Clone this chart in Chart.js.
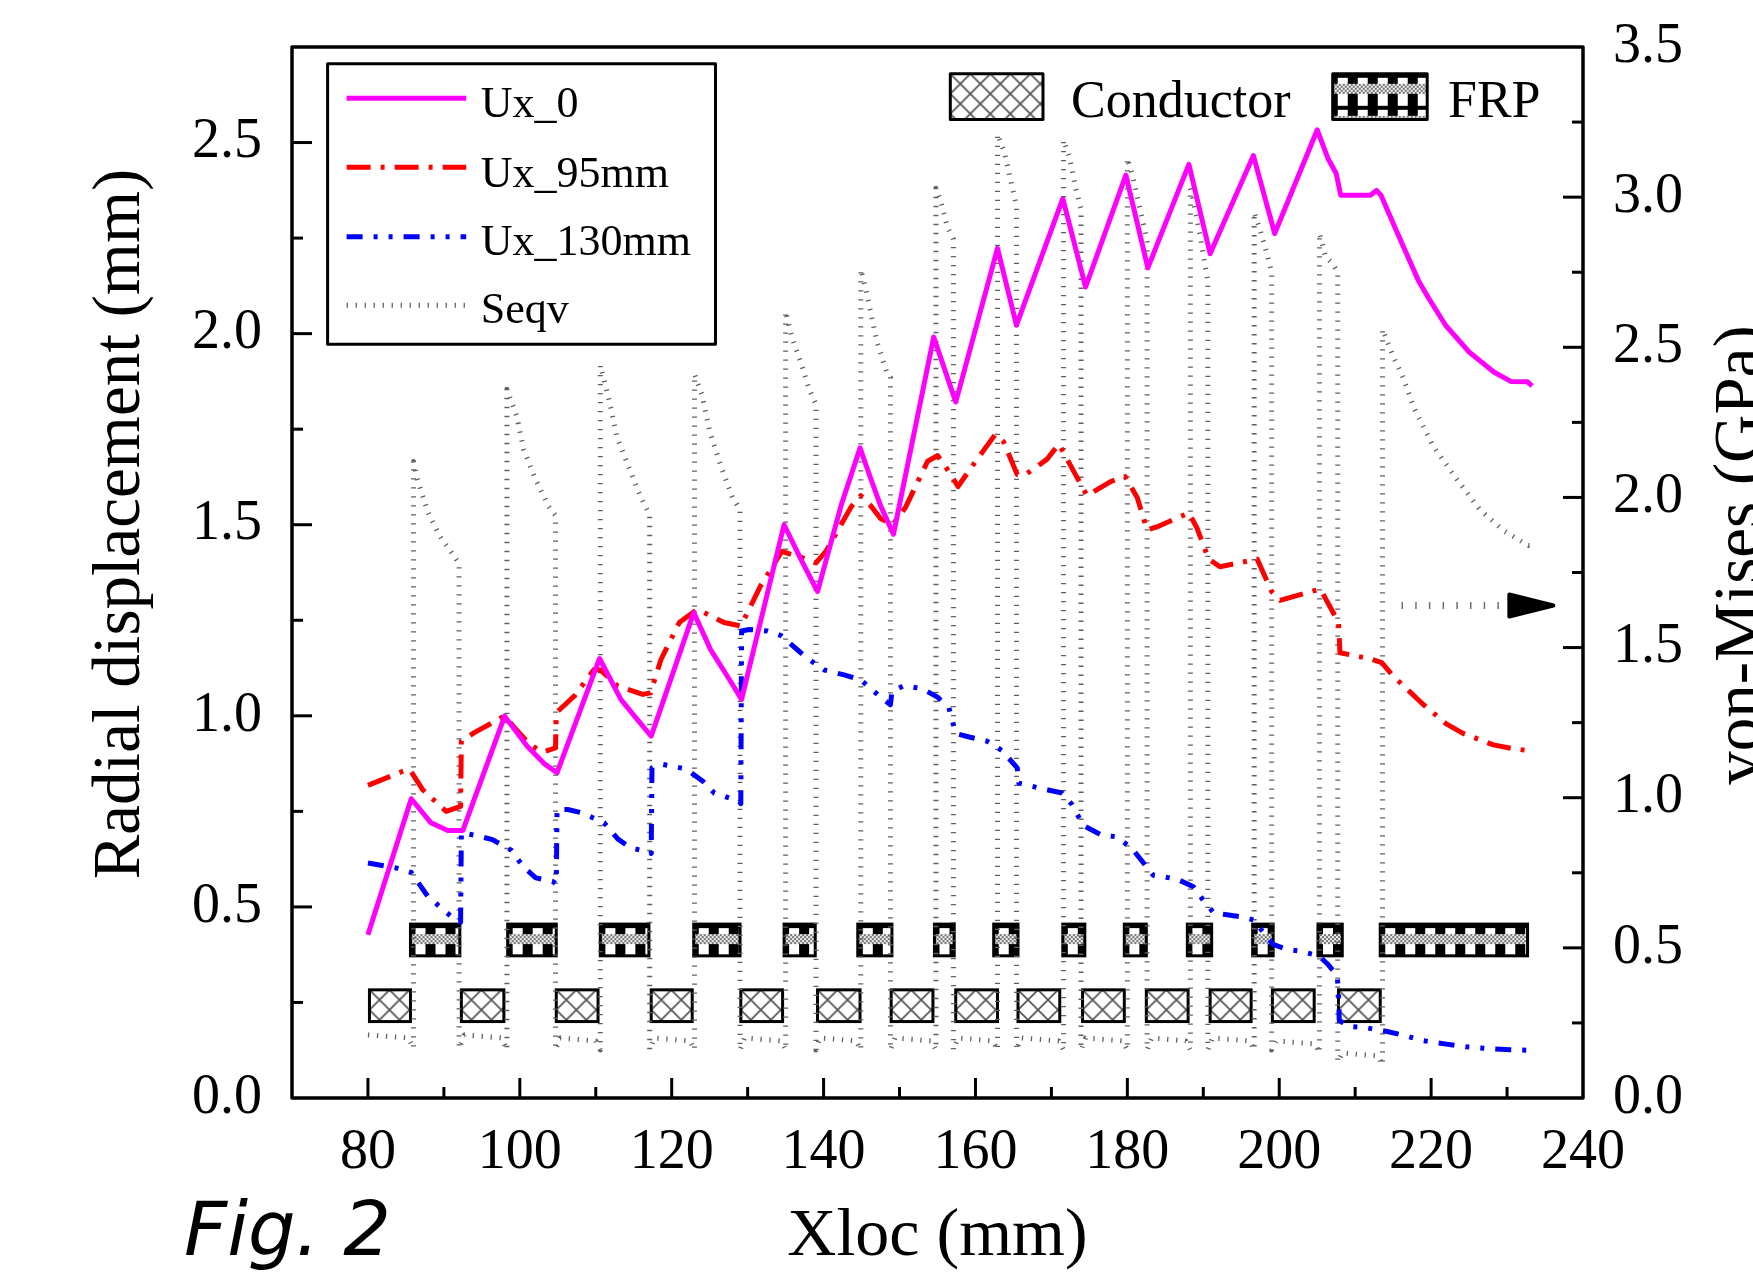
<!DOCTYPE html>
<html>
<head>
<meta charset="utf-8">
<title>Fig. 2 – radial displacement and von-Mises stress</title>
<script src="https://cdn.jsdelivr.net/npm/chart.js@4.4.1/dist/chart.umd.min.js"></script>
<style>
  html, body { margin: 0; padding: 0; background: #fff; overflow: hidden; }
  canvas { display: block; }
</style>
</head>
<body>
<canvas id="fig" width="1753" height="1278"></canvas>
<script>
// ── Data ──────────────────────────────────────────────────────
const xTicks    = [80, 100, 120, 140, 160, 180, 200, 220, 240];
const dispTicks = [0, 0.5, 1.0, 1.5, 2.0, 2.5];
const seqvTicks = [0, 0.5, 1.0, 1.5, 2.0, 2.5, 3.0, 3.5];

// Ux_0 (mm)
const ux0X = [80, 85.7, 88.3, 90.5, 92.5, 98.0, 101.0, 103.2, 104.9, 110.5, 113.3, 115.1, 117.3,
  122.9, 125.1, 127.6, 129.2, 134.8, 137.0, 139.2, 142.3, 144.8, 146.2, 147.5, 149.2, 154.5,
  157.4, 162.9, 165.4, 171.5, 174.5, 179.8, 182.7, 188.1, 190.9, 196.6, 199.4, 205.0, 206.4,
  207.5, 208.1, 212.0, 212.8, 213.4, 215.5, 218.3, 219.7, 221.9, 225.0, 228.3, 230.5, 232.7, 233.3];
const ux0Y = [0.427, 0.783, 0.72, 0.70, 0.70, 0.999, 0.92, 0.875, 0.851, 1.15, 1.043, 0.999, 0.947,
  1.27, 1.174, 1.095, 1.043, 1.50, 1.41, 1.325, 1.55, 1.701, 1.621, 1.55, 1.475, 1.991,
  1.821, 2.223, 2.022, 2.353, 2.122, 2.415, 2.172, 2.443, 2.209, 2.466, 2.262, 2.533, 2.459,
  2.419, 2.362, 2.362, 2.375, 2.362, 2.266, 2.14, 2.092, 2.022, 1.952, 1.899, 1.875, 1.874, 1.863];

// Ux_95mm (mm)
const ux95X = [80, 84.6, 85.5, 87.2, 90.3, 92.2, 92.3, 94.0, 96.2, 98.0, 99.3, 101.3, 103.0, 104.7,
  104.8, 107.2, 109.8, 110.6, 112.9, 116.2, 117.2, 118.6, 121.0, 123.4, 126.9, 129.1, 131.7,
  134.5, 137.0, 139.0, 140.3, 143.6, 144.9, 146.2, 147.5, 149.1, 150.8, 153.7, 155.0, 156.1,
  157.2, 157.7, 160.2, 162.6, 163.7, 165.5, 166.5, 169.4, 171.0, 172.9, 174.7, 177.8, 179.7,
  181.3, 182.6, 184.1, 188.1, 189.2, 190.7, 192.2, 197.1, 199.0, 200.1, 205.4, 207.8, 208.0,
  212.0, 213.5, 215.0, 219.0, 222.0, 224.2, 228.2, 230.8, 232.8];
const ux95Y = [0.818, 0.855, 0.86, 0.807, 0.75, 0.763, 0.934, 0.956, 0.98, 1.0, 0.969, 0.925, 0.905, 0.916,
  1.008, 1.052, 1.122, 1.12, 1.078, 1.056, 1.06, 1.148, 1.244, 1.279, 1.244, 1.235, 1.34,
  1.43, 1.415, 1.40, 1.43, 1.546, 1.576, 1.55, 1.516, 1.50, 1.546, 1.666, 1.681, 1.651,
  1.616, 1.60, 1.671, 1.736, 1.717, 1.631, 1.63, 1.671, 1.711, 1.641, 1.576, 1.613, 1.626,
  1.571, 1.486, 1.496, 1.531, 1.49, 1.41, 1.39, 1.41, 1.325, 1.302, 1.332, 1.245, 1.165,
  1.149, 1.139, 1.104, 1.029, 0.979, 0.954, 0.924, 0.914, 0.909];

// Ux_130mm (mm)
const ux130X = [80, 83.7, 85.7, 87.9, 91.2, 92.2, 92.3, 94.4, 96.4, 98.9, 100.4, 102.1, 104.3, 104.8,
  104.9, 106.3, 108.2, 111.1, 112.9, 114.6, 116.8, 117.3, 117.4, 118.8, 121.9, 124.1, 125.6,
  128.9, 129.1, 129.2, 130.2, 132.6, 134.4, 137.0, 138.7, 140.1, 142.7, 144.9, 147.5, 148.8,
  149.0, 150.6, 153.0, 155.0, 156.5, 157.4, 159.3, 161.5, 163.5, 165.5, 165.7, 168.6, 171.4,
  172.7, 174.2, 176.4, 178.6, 180.6, 182.4, 183.4, 186.5, 188.7, 190.0, 191.4, 192.9, 195.1,
  196.8, 197.9, 199.2, 201.0, 202.6, 205.2, 206.3, 207.6, 207.8, 207.9, 209.0, 211.1, 214.2,
  216.8, 218.9, 222.0, 224.6, 227.0, 230.4, 232.8];
const ux130Y = [0.615, 0.602, 0.59, 0.527, 0.471, 0.46, 0.694, 0.686, 0.676, 0.648, 0.606, 0.576, 0.567, 0.56,
  0.755, 0.755, 0.746, 0.72, 0.678, 0.654, 0.645, 0.64, 0.864, 0.873, 0.861, 0.829, 0.798,
  0.776, 0.77, 1.222, 1.226, 1.222, 1.21, 1.165, 1.139, 1.12, 1.107, 1.094, 1.049, 1.029,
  1.064, 1.079, 1.071, 1.049, 1.021, 0.954, 0.944, 0.934, 0.909, 0.864, 0.824, 0.810, 0.798,
  0.768, 0.713, 0.690, 0.683, 0.653, 0.608, 0.583, 0.573, 0.553, 0.517, 0.484, 0.48, 0.474,
  0.465, 0.432, 0.402, 0.389, 0.385, 0.372, 0.352, 0.322, 0.283, 0.204, 0.187, 0.185, 0.174,
  0.162, 0.15, 0.141, 0.134, 0.13, 0.126, 0.125];

// Seqv (GPa, right axis)
const seqvX = [80, 85.3, 86.0, 86.0, 86.4, 87.9, 89.5, 90.9, 92.0, 92.0,
  92.7, 97.6, 98.3, 98.3, 99.6, 100.5, 101.9, 103.8, 104.7, 104.7,
  105.3, 110.0, 110.6, 110.6, 111.8, 112.8, 114.2, 115.6, 117.1, 117.1,
  117.7, 122.4, 123.0, 123.0, 124.0, 125.0, 126.4, 128.0, 129.0, 129.0,
  129.6, 134.4, 135.0, 135.0, 135.8, 137.0, 138.1, 139.0, 139.0,
  139.5, 144.3, 144.9, 144.9, 145.6, 147.0, 148.4, 148.8, 148.8,
  149.4, 154.2, 154.8, 154.8, 155.5, 156.3, 157.1, 157.1,
  157.7, 162.3, 162.9, 162.9, 163.8, 164.6, 165.4, 165.4,
  166.0, 171.0, 171.6, 171.6, 172.4, 173.2, 173.9, 173.9,
  174.5, 179.4, 180.0, 180.0, 180.7, 181.5, 182.3, 182.6, 182.6,
  183.2, 187.7, 188.3, 188.3, 189.0, 189.8, 190.6, 190.6,
  191.2, 196.1, 196.7, 196.7, 197.5, 198.4, 199.0, 199.0,
  199.6, 204.7, 205.3, 205.3, 206.1, 207.0, 207.7, 207.7,
  208.3, 213.0, 213.6, 213.6, 215.0, 216.3, 217.7, 220.3, 223.4, 226.4, 229.5, 232.8, 233.3];
const seqvY = [0.21, 0.20, 0.165, 2.12, 2.07, 1.95, 1.87, 1.82, 1.78, 0.165,
  0.21, 0.20, 0.16, 2.36, 2.27, 2.16, 2.07, 1.97, 1.94, 0.16,
  0.20, 0.19, 0.16, 2.44, 2.32, 2.20, 2.11, 2.02, 1.94, 0.16,
  0.20, 0.19, 0.16, 2.41, 2.34, 2.22, 2.11, 2.00, 1.96, 0.16,
  0.20, 0.19, 0.16, 2.62, 2.535, 2.45, 2.36, 2.31, 0.16,
  0.20, 0.19, 0.16, 2.76, 2.69, 2.52, 2.41, 2.40, 0.16,
  0.20, 0.19, 0.16, 3.03, 2.98, 2.90, 2.86, 0.16,
  0.20, 0.19, 0.16, 3.21, 3.15, 3.06, 2.97, 0.16,
  0.20, 0.19, 0.16, 3.19, 3.13, 3.03, 2.96, 0.16,
  0.20, 0.19, 0.16, 3.13, 3.07, 2.98, 2.89, 2.85, 0.16,
  0.20, 0.19, 0.16, 3.03, 2.95, 2.84, 2.72, 0.16,
  0.20, 0.19, 0.16, 2.95, 2.89, 2.81, 2.75, 0.16,
  0.19, 0.18, 0.15, 2.88, 2.80, 2.78, 2.75, 0.12,
  0.15, 0.14, 0.11, 2.56, 2.47, 2.40, 2.30, 2.17, 2.06, 1.96, 1.89, 1.84, 1.84];

// Conductor / FRP layers (x extent in mm, y band on the left axis)
const condStart = [80.2, 92.3, 104.8, 117.3, 129.1, 139.2, 148.9, 157.4, 165.6, 174.1, 182.5, 190.9, 199.1, 207.8];
const condEnd   = [85.6, 97.9, 110.3, 122.7, 134.6, 144.8, 154.4, 162.9, 171.1, 179.6, 188.0, 196.3, 204.6, 213.3];
const condBand  = [0.200, 0.283];
const frpStart  = [85.6, 98.4, 110.6, 122.9, 134.8, 144.5, 154.6, 162.4, 171.5, 179.6, 187.9, 196.5, 205.1, 213.3];
const frpEnd    = [92.1, 104.8, 117.0, 129.0, 138.9, 149.0, 157.2, 165.6, 174.4, 182.5, 191.1, 199.2, 208.3, 232.7];
const frpBand   = [0.372, 0.455];

// arrow telling that Seqv belongs to the right axis
const arrowX     = [216.1, 229.8];
const arrowLevel = 1.64;
const arrowBase  = 230.3;
const arrowTip   = 236.1;

const legendLabels = ["Ux_0", "Ux_95mm", "Ux_130mm", "Seqv"];

// ── Helpers ───────────────────────────────────────────────────
const SERIF = '"Liberation Serif", "Times New Roman", Times, serif';
const pts = (xs, ys) => xs.map((x, i) => ({ x, y: ys[i] }));
const tickFont  = { family: SERIF, size: 56, lineHeight: 1.2 };
const titleFont = { family: SERIF, size: 68, lineHeight: 1.2 };

// no extra room for the end labels, the plot box is fixed
function noPad(s) {
  s.paddingTop = 0; s.paddingBottom = 0; s.paddingLeft = 0; s.paddingRight = 0;
}

function makeConductorPattern(ctx) {
  const c = document.createElement("canvas");
  c.width = 20; c.height = 20;
  const g = c.getContext("2d");
  g.fillStyle = "#fff";
  g.fillRect(0, 0, 20, 20);
  g.strokeStyle = "#555";
  g.lineWidth = 1.7;
  g.beginPath();
  g.moveTo(-2, -2); g.lineTo(22, 22);
  g.moveTo(22, -2); g.lineTo(-2, 22);
  g.stroke();
  return ctx.createPattern(c, "repeat");
}

function makeFrpPattern(ctx) {
  const c = document.createElement("canvas");
  c.width = 20; c.height = 32;
  const g = c.getContext("2d");
  g.fillStyle = "#000";
  g.fillRect(0, 0, 20, 32);
  g.fillStyle = "#fff";
  g.fillRect(5, 4, 10, 28);
  // grey checkered band across the middle
  for (let yy = 10; yy < 20; yy += 2) {
    for (let xx = 0; xx < 20; xx += 2) {
      g.fillStyle = ((xx + yy) / 2) % 2 ? "#eee" : "#777";
      g.fillRect(xx, yy, 2, 2);
    }
  }
  return ctx.createPattern(c, "repeat");
}

function fillBox(ctx, pattern, x0, y0, w, h) {
  pattern.setTransform(new DOMMatrix().translate(x0, y0));
  ctx.fillStyle = pattern;
  ctx.fillRect(x0, y0, w, h);
  ctx.lineWidth = 3;
  ctx.strokeStyle = "#000";
  ctx.strokeRect(x0, y0, w, h);
}

function drawLayerBoxes(ctx, xs, ys, starts, ends, band, pattern) {
  const top = ys.getPixelForValue(band[1]);
  const bot = ys.getPixelForValue(band[0]);
  starts.forEach((s, i) => {
    const x0 = xs.getPixelForValue(s);
    const x1 = xs.getPixelForValue(ends[i]);
    fillBox(ctx, pattern, x0, top, x1 - x0, bot - top);
  });
}

// inward ticks (major on labels, minor half way)
function drawInnerTicks(ctx, scale, side, area) {
  const vals = scale.ticks.map(t => t.value);
  const step = vals[1] - vals[0];
  const minors = vals.map(v => v - step / 2);
  minors.push(vals[vals.length - 1] + step / 2);

  const mark = (v, len) => {
    if (v <= scale.min || v >= scale.max) return;
    const p = scale.getPixelForValue(v);
    ctx.beginPath();
    if (side === "bottom") { ctx.moveTo(p, area.bottom); ctx.lineTo(p, area.bottom - len); }
    if (side === "left")   { ctx.moveTo(area.left, p);   ctx.lineTo(area.left + len, p); }
    if (side === "right")  { ctx.moveTo(area.right, p);  ctx.lineTo(area.right - len, p); }
    ctx.stroke();
  };
  ctx.lineWidth = 3;
  ctx.strokeStyle = "#000";
  vals.forEach(v => mark(v, 20));
  minors.forEach(v => mark(v, 11));
}

function verticalTitle(ctx, text, x, y) {
  ctx.save();
  ctx.translate(x, y);
  ctx.rotate(-Math.PI / 2);
  ctx.textAlign = "center";
  ctx.textBaseline = "alphabetic";
  ctx.fillText(text, 0, 0);
  ctx.restore();
}

// ── Plugin: layers, frame, ticks, legends ─────────────────────
const decorPlugin = {
  id: "decor",
  beforeDatasetsDraw(chart) {
    const { ctx, scales } = chart;
    if (!chart.$patterns) {
      chart.$patterns = { cond: makeConductorPattern(ctx), frp: makeFrpPattern(ctx) };
    }
    ctx.save();
    drawLayerBoxes(ctx, scales.x, scales.y, condStart, condEnd, condBand, chart.$patterns.cond);
    drawLayerBoxes(ctx, scales.x, scales.y, frpStart, frpEnd, frpBand, chart.$patterns.frp);
    ctx.restore();
  },
  afterDatasetsDraw(chart) {
    const { ctx, chartArea: area, scales } = chart;
    ctx.save();

    // arrow head
    const ay = scales.y2.getPixelForValue(arrowLevel);
    const bx = scales.x.getPixelForValue(arrowBase);
    const tx = scales.x.getPixelForValue(arrowTip);
    ctx.fillStyle = "#000";
    ctx.strokeStyle = "#000";
    ctx.lineJoin = "round";
    ctx.lineWidth = 4;
    ctx.beginPath();
    ctx.moveTo(bx, ay - 11);
    ctx.lineTo(tx, ay);
    ctx.lineTo(bx, ay + 11);
    ctx.closePath();
    ctx.fill();
    ctx.stroke();

    // frame + ticks
    ctx.lineWidth = 3.5;
    ctx.strokeRect(area.left, area.top, area.right - area.left, area.bottom - area.top);
    drawInnerTicks(ctx, scales.x, "bottom", area);
    drawInnerTicks(ctx, scales.y, "left", area);
    drawInnerTicks(ctx, scales.y2, "right", area);

    // axis titles of the two vertical axes (both read bottom to top)
    ctx.fillStyle = "#000";
    ctx.font = `67px ${SERIF}`;
    verticalTitle(ctx, "Radial displacement (mm)", 139, 524);
    verticalTitle(ctx, "von-Mises (GPa)", 1760, 555);

    // series legend
    ctx.lineWidth = 3;
    ctx.strokeStyle = "#000";
    ctx.strokeRect(327.6, 63.7, 387.9, 280.6);
    const lineYs = [98.3, 167.3, 236.7, 305.3];
    const baseYs = [117.3, 186.7, 255.0, 323.3];
    ctx.font = `44px ${SERIF}`;
    ctx.textBaseline = "alphabetic";
    ctx.textAlign = "left";
    legendLabels.forEach((label, i) => {
      const ds = chart.data.datasets[i];
      ctx.save();
      ctx.strokeStyle = ds.borderColor;
      ctx.lineWidth = ds.borderWidth;
      ctx.setLineDash(ds.borderDash || []);
      ctx.beginPath();
      ctx.moveTo(346.6, lineYs[i]);
      ctx.lineTo(466.2, lineYs[i]);
      ctx.stroke();
      ctx.restore();
      ctx.fillStyle = "#000";
      ctx.fillText(label, 480.7, baseYs[i]);
    });

    // layer legend
    fillBox(ctx, chart.$patterns.cond, 950.3, 73.8, 92.7, 45.8);
    fillBox(ctx, chart.$patterns.frp, 1332.7, 73.8, 94.5, 45.8);
    ctx.fillStyle = "#000";
    ctx.font = `52px ${SERIF}`;
    ctx.fillText("Conductor", 1071, 116.7);
    ctx.fillText("FRP", 1448, 116.7);

    // figure label
    ctx.font = 'italic 75px "DejaVu Sans", sans-serif';
    ctx.fillText("Fig. 2", 184, 1255);
    ctx.restore();
  }
};

// ── Chart ─────────────────────────────────────────────────────
const ctx = document.getElementById("fig").getContext("2d");

new Chart(ctx, {
  type: "line",
  data: {
    datasets: [
      {
        label: "Ux_0",
        data: pts(ux0X, ux0Y),
        borderColor: "#ff00ff",
        borderWidth: 5,
        yAxisID: "y"
      },
      {
        label: "Ux_95mm",
        data: pts(ux95X, ux95Y),
        borderColor: "#ff0000",
        borderWidth: 5,
        borderDash: [24, 10, 4, 10],
        yAxisID: "y"
      },
      {
        label: "Ux_130mm",
        data: pts(ux130X, ux130Y),
        borderColor: "#0000ff",
        borderWidth: 5,
        borderDash: [16, 11, 4, 11, 4, 11],
        yAxisID: "y"
      },
      {
        label: "Seqv",
        data: pts(seqvX, seqvY),
        borderColor: "#606060",
        borderWidth: 5,
        borderDash: [1.3, 7.7],
        yAxisID: "y2"
      },
      {
        label: "arrow",
        data: pts(arrowX, arrowX.map(() => arrowLevel)),
        borderColor: "#707070",
        borderWidth: 7,
        borderDash: [1.5, 12.2],
        yAxisID: "y2"
      }
    ]
  },
  options: {
    responsive: false,
    animation: false,
    devicePixelRatio: 1,
    layout: { padding: { left: 0, top: 47, right: 0, bottom: 0 } },
    elements: {
      point: { radius: 0, hoverRadius: 0 },
      line: { tension: 0, borderCapStyle: "butt", borderJoinStyle: "round", fill: false }
    },
    plugins: { legend: { display: false }, tooltip: { enabled: false } },
    scales: {
      x: {
        type: "linear",
        min: 70, max: 240,
        grid: { display: false },
        border: { display: false },
        afterBuildTicks: s => { s.ticks = xTicks.map(v => ({ value: v })); },
        afterFit: s => { s.height = 180; noPad(s); },
        ticks: { font: tickFont, color: "#000", padding: 14, maxRotation: 0, autoSkip: false,
                 callback: v => String(v) },
        title: { display: true, text: "Xloc (mm)", font: titleFont, color: "#000", padding: 0 }
      },
      y: {
        position: "left",
        min: 0, max: 2.75,
        grid: { display: false },
        border: { display: false },
        afterBuildTicks: s => { s.ticks = dispTicks.map(v => ({ value: v })); },
        afterFit: s => { s.width = 292; noPad(s); },
        ticks: { font: tickFont, color: "#000", padding: 22, autoSkip: false,
                 callback: v => Number(v).toFixed(1) }
      },
      y2: {
        position: "right",
        min: 0, max: 3.5,
        grid: { display: false },
        border: { display: false },
        afterBuildTicks: s => { s.ticks = seqvTicks.map(v => ({ value: v })); },
        afterFit: s => { s.width = 170; noPad(s); },
        ticks: { font: tickFont, color: "#000", padding: 22, autoSkip: false,
                 callback: v => Number(v).toFixed(1) }
      }
    }
  },
  plugins: [decorPlugin]
});
</script>
</body>
</html>
